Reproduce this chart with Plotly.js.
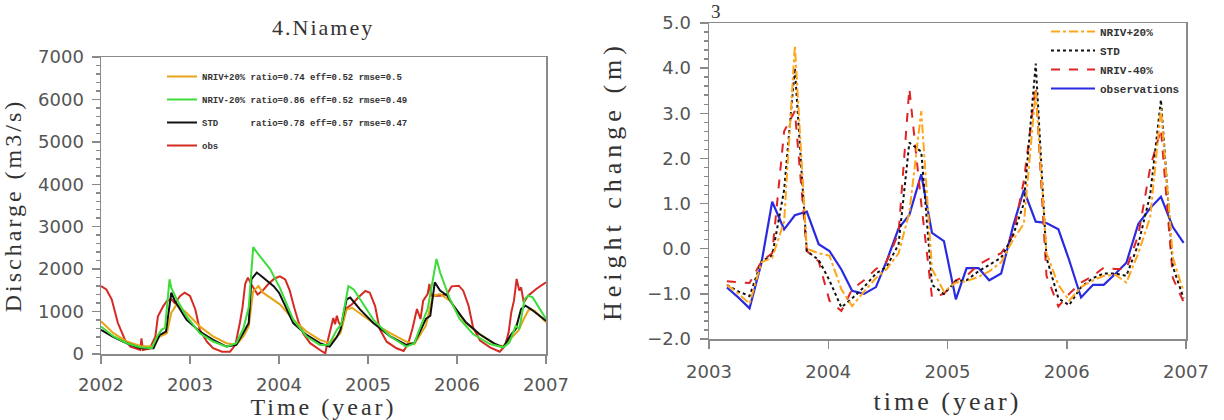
<!DOCTYPE html>
<html>
<head>
<meta charset="utf-8">
<script src="https://cdn.plot.ly/plotly-3.0.1.min.js"></script>
<style>
html,body{margin:0;padding:0;background:#fff;}
#chart{width:1224px;height:420px;}
text.xtitle, text.ytitle, text.x2title {letter-spacing: 3px;}
text.y2title {letter-spacing: 5px;}
</style>
</head>
<body>
<div id="chart"></div>
<script>
// ---------- Left panel: 4.Niamey discharge (m3/s) ----------
const plus20X = [2002.0,2002.14,2002.29,2002.44,2002.57,2002.66,2002.74,2002.79,2002.85,2002.96,2003.11,2003.26,2003.41,2003.52,2003.60,2003.66,2003.71,2003.77,2003.82,2004.01,2004.16,2004.31,2004.46,2004.57,2004.69,2004.76,2004.82,2004.95,2005.06,2005.25,2005.43,2005.52,2005.58,2005.65,2005.73,2005.81,2005.89,2005.92,2006.09,2006.28,2006.45,2006.54,2006.62,2006.69,2006.75,2006.81,2006.87,2007.0];
const plus20Y = [770,490,294,190,175,413,490,970,1170,970,650,413,254,214,413,650,1480,1600,1445,1170,810,530,333,254,490,1050,1090,890,730,490,294,230,432,668,1375,1414,1296,1257,746,432,196,196,400,550,825,1060,1020,746];

const minus20X = [2002.0,2002.14,2002.29,2002.44,2002.57,2002.63,2002.68,2002.72,2002.77,2002.79,2002.85,2002.96,2003.11,2003.26,2003.41,2003.52,2003.60,2003.66,2003.71,2003.75,2003.90,2004.01,2004.16,2004.31,2004.46,2004.56,2004.65,2004.70,2004.78,2004.84,2005.06,2005.25,2005.43,2005.52,2005.58,2005.63,2005.67,2005.77,2005.81,2005.92,2006.03,2006.18,2006.37,2006.52,2006.59,2006.66,2006.70,2006.76,2006.80,2006.85,2006.93,2007.0];
const minus20Y = [650,413,254,160,135,413,570,620,1760,1560,1290,890,490,294,175,254,600,1100,2520,2400,2000,1560,810,413,214,220,570,700,1600,1520,810,413,175,250,590,864,1060,2240,1925,1296,825,471,236,157,275,668,590,1296,1375,1335,1060,825];

const stdX = [2002.0,2002.14,2002.29,2002.44,2002.59,2002.66,2002.73,2002.78,2002.79,2002.83,2002.96,2003.11,2003.26,2003.41,2003.52,2003.60,2003.66,2003.69,2003.75,2003.80,2003.94,2004.0,2004.16,2004.31,2004.46,2004.57,2004.65,2004.69,2004.76,2004.80,2004.91,2005.06,2005.25,2005.43,2005.52,2005.58,2005.65,2005.70,2005.75,2005.81,2005.89,2005.96,2006.10,2006.25,2006.43,2006.52,2006.60,2006.66,2006.72,2006.77,2006.83,2007.0];
const stdY = [570,400,254,135,135,450,530,1400,1445,1250,810,530,333,175,214,500,730,1760,1920,1840,1600,1445,730,450,254,175,400,570,1290,1330,1050,730,413,214,260,510,825,900,1690,1493,1375,1139,746,471,236,157,432,590,1060,1139,1060,786];

const obsX = [2002.0,2002.06,2002.12,2002.19,2002.27,2002.33,2002.44,2002.455,2002.47,2002.55,2002.61,2002.64,2002.70,2002.74,2002.79,2002.83,2002.89,2002.94,2003.0,2003.06,2003.11,2003.19,2003.26,2003.36,2003.45,2003.51,2003.56,2003.59,2003.62,2003.65,2003.70,2003.76,2003.82,2003.88,2003.95,2004.01,2004.07,2004.12,2004.17,2004.22,2004.27,2004.35,2004.46,2004.52,2004.55,2004.58,2004.61,2004.63,2004.65,2004.67,2004.70,2004.74,2004.82,2004.89,2004.97,2005.02,2005.08,2005.13,2005.21,2005.32,2005.40,2005.45,2005.50,2005.55,2005.59,2005.62,2005.67,2005.69,2005.71,2005.76,2005.81,2005.89,2005.94,2006.02,2006.07,2006.13,2006.18,2006.26,2006.37,2006.48,2006.54,2006.58,2006.61,2006.64,2006.67,2006.70,2006.72,2006.75,2006.80,2006.89,2007.0];
const obsY = [1600,1520,1290,730,330,175,95,370,95,135,410,890,1130,1250,1290,1200,1370,1445,1370,1050,570,290,135,55,55,215,730,1100,1650,1800,1600,1400,1500,1650,1780,1830,1760,1500,1100,750,490,255,95,15,330,600,850,700,900,750,650,1050,1170,1330,1485,1445,1130,590,290,135,70,236,600,1060,825,1257,1414,1650,1375,1380,1375,1414,1595,1610,1493,1139,629,314,157,55,196,510,982,1257,1768,1493,1571,1218,1375,1532,1690];

const leftNames = [
  "NRIV+20%\u00a0ratio=0.74\u00a0eff=0.52\u00a0rmse=0.5",
  "NRIV-20%\u00a0ratio=0.86\u00a0eff=0.52\u00a0rmse=0.49",
  "STD\u00a0\u00a0\u00a0\u00a0\u00a0\u00a0ratio=0.78\u00a0eff=0.57\u00a0rmse=0.47",
  "obs"
];
const leftXTicks = [2002, 2003, 2004, 2005, 2006, 2007];

// ---------- Right panel: height change (m) ----------
const timeR = [2003.15,2003.25,2003.34,2003.44,2003.53,2003.63,2003.72,2003.82,2003.92,2004.01,2004.11,2004.20,2004.30,2004.40,2004.49,2004.59,2004.68,2004.78,2004.87,2004.97,2005.07,2005.16,2005.26,2005.35,2005.45,2005.55,2005.64,2005.74,2005.83,2005.93,2006.02,2006.12,2006.22,2006.31,2006.41,2006.50,2006.60,2006.70,2006.79,2006.89,2006.98];
const nrivPlus20 = [-0.80,-1.00,-1.22,-0.30,-0.20,0.60,4.50,0.00,-0.10,-0.15,-0.90,-1.27,-0.95,-0.65,-0.45,-0.10,0.80,3.05,-0.45,-0.95,-0.75,-0.72,-0.62,-0.50,-0.30,0.20,0.55,3.50,-0.10,-0.80,-1.15,-0.85,-0.70,-0.60,-0.58,-0.75,-0.10,0.70,3.10,-0.20,-0.95];
const stdR = [-0.80,-0.95,-1.05,-0.28,-0.15,1.30,4.00,-0.05,-0.25,-0.70,-1.30,-1.10,-0.85,-0.55,-0.40,0.10,2.35,2.15,-0.80,-1.00,-0.72,-0.70,-0.50,-0.35,-0.20,0.30,1.00,4.10,-0.20,-1.10,-1.25,-0.85,-0.65,-0.55,-0.55,-0.60,0.10,1.20,3.30,-0.40,-1.10];
const nrivMinus40 = [-0.72,-0.74,-0.76,-0.28,-0.10,2.60,3.05,-0.05,-0.28,-1.15,-1.38,-0.90,-0.70,-0.45,-0.28,0.35,3.55,1.00,-1.08,-1.00,-0.70,-0.60,-0.35,-0.22,-0.10,0.30,1.50,3.60,-0.60,-1.28,-1.00,-0.75,-0.60,-0.42,-0.45,-0.45,0.30,1.80,2.65,-0.65,-1.18];
const observations = [-0.86,-1.09,-1.32,-0.31,1.04,0.43,0.74,0.82,0.10,-0.05,-0.46,-0.93,-1.00,-0.85,-0.27,0.45,0.75,1.65,0.35,0.17,-1.12,-0.43,-0.43,-0.70,-0.55,0.50,1.30,0.60,0.57,0.43,-0.25,-1.08,-0.80,-0.80,-0.55,-0.31,0.55,0.90,1.15,0.48,0.13];
const rightNames = ["NRIV+20%", "STD", "NRIV-40%", "observations"];
const rightXTicks = [2003, 2004, 2005, 2006, 2007];

const W = 1224, H = 420;
const px = v => v / W;
const py = v => 1 - v / H;

const tickFont = {family: "DejaVu Sans", size: 18, color: "#555"};
const titleFont = {family: "Liberation Serif", size: 24, color: "#333"};

const traces = [
  {x: obsX, y: obsY, name: leftNames[3], type: "scatter", mode: "lines", line: {color: "#d42a22", width: 2}, xaxis: "x", yaxis: "y", legend: "legend", legendgroup: "l4", legendrank: 4},
  {x: plus20X, y: plus20Y, name: leftNames[0], type: "scatter", mode: "lines", line: {color: "#e8a418", width: 2}, xaxis: "x", yaxis: "y", legend: "legend", legendgroup: "l1", legendrank: 1},
  {x: stdX, y: stdY, name: leftNames[2], type: "scatter", mode: "lines", line: {color: "#111111", width: 2}, xaxis: "x", yaxis: "y", legend: "legend", legendgroup: "l3", legendrank: 3},
  {x: minus20X, y: minus20Y, name: leftNames[1], type: "scatter", mode: "lines", line: {color: "#3ddc3a", width: 2}, xaxis: "x", yaxis: "y", legend: "legend", legendgroup: "l2", legendrank: 2},

  {x: timeR, y: observations, name: rightNames[3], type: "scatter", mode: "lines", line: {color: "#2a2ae0", width: 2.2}, xaxis: "x2", yaxis: "y2", legend: "legend2", legendrank: 4},
  {x: timeR, y: nrivMinus40, name: rightNames[2], type: "scatter", mode: "lines", line: {color: "#e02424", width: 2, dash: "dash"}, xaxis: "x2", yaxis: "y2", legend: "legend2", legendrank: 3},
  {x: timeR, y: stdR, name: rightNames[1], type: "scatter", mode: "lines", line: {color: "#111111", width: 2, dash: "dot"}, xaxis: "x2", yaxis: "y2", legend: "legend2", legendrank: 2},
  {x: timeR, y: nrivPlus20, name: rightNames[0], type: "scatter", mode: "lines", line: {color: "#ffa51c", width: 2, dash: "dashdot"}, xaxis: "x2", yaxis: "y2", legend: "legend2", legendrank: 1}
];

const axBase = {
  showgrid: false, zeroline: false, showline: true, linecolor: "#8a8a8a", linewidth: 1.5, mirror: true,
  ticks: "outside", ticklen: 8, tickwidth: 1.5, tickcolor: "#8a8a8a", tickfont: tickFont, automargin: false
};

const layout = {
  width: W, height: H,
  margin: {l: 0, r: 0, t: 0, b: 0},
  paper_bgcolor: "#fff", plot_bgcolor: "#fff",
  showlegend: true,
  xaxis: Object.assign({}, axBase, {
    domain: [px(101), px(546)], range: [2002, 2007], tickvals: leftXTicks, anchor: "y",
    ticklabelstandoff: 6,
    title: {text: "Time (year)", font: titleFont, standoff: 14}
  }),
  yaxis: Object.assign({}, axBase, {
    domain: [py(354), py(57)], range: [0, 7000], dtick: 1000, anchor: "x",
    ticklabelstandoff: 4,
    minor: {dtick: 200, ticks: "outside", ticklen: 4, tickcolor: "#8a8a8a", showgrid: false},
    title: {text: "Discharge (m3/s)", font: titleFont, standoff: 12}
  }),
  xaxis2: Object.assign({}, axBase, {
    domain: [px(709), px(1186)], range: [2003, 2007], tickvals: rightXTicks, anchor: "y2",
    ticklabelstandoff: 8,
    title: {text: "time (year)", font: {family: "Liberation Serif", size: 26, color: "#333"}, standoff: 10}
  }),
  yaxis2: Object.assign({}, axBase, {
    domain: [py(339), py(23)], range: [-2, 5], dtick: 1, tickformat: ".1f", anchor: "x2",
    ticklabelstandoff: 5,
    minor: {dtick: 0.2, ticks: "outside", ticklen: 4, tickcolor: "#8a8a8a", showgrid: false},
    title: {text: "Height change (m)", font: {family: "Liberation Serif", size: 26, color: "#333"}, standoff: 18}
  }),
  legend: {
    x: px(162), y: py(62), xanchor: "left", yanchor: "top",
    bgcolor: "rgba(0,0,0,0)", borderwidth: 0,
    font: {family: "Liberation Mono", size: 9, color: "#333", weight: "bold"},
    itemwidth: 30, tracegroupgap: 4, traceorder: "grouped"
  },
  legend2: {
    x: px(1046), y: py(17), xanchor: "left", yanchor: "top",
    bgcolor: "rgba(0,0,0,0)", borderwidth: 0,
    font: {family: "Liberation Mono", size: 11, color: "#333", weight: "bold"},
    itemwidth: 44, traceorder: "normal"
  },
  annotations: [
    {text: "4.Niamey", xref: "paper", yref: "paper", x: px(323), y: py(28), xanchor: "center", yanchor: "middle", showarrow: false, font: {family: "Liberation Serif", size: 22, color: "#333"}},
    {text: "3", xref: "paper", yref: "paper", x: px(716), y: 1, xanchor: "center", yanchor: "top", showarrow: false, borderpad: 0, font: {family: "Liberation Serif", size: 19, color: "#333"}}
  ]
};

Plotly.newPlot("chart", traces, layout, {displayModeBar: false, staticPlot: true}).then(function () {
  document.querySelectorAll(".annotation-text").forEach(function (t) {
    if (t.textContent === "4.Niamey") t.style.letterSpacing = "2px";
  });
});
</script>
</body>
</html>
